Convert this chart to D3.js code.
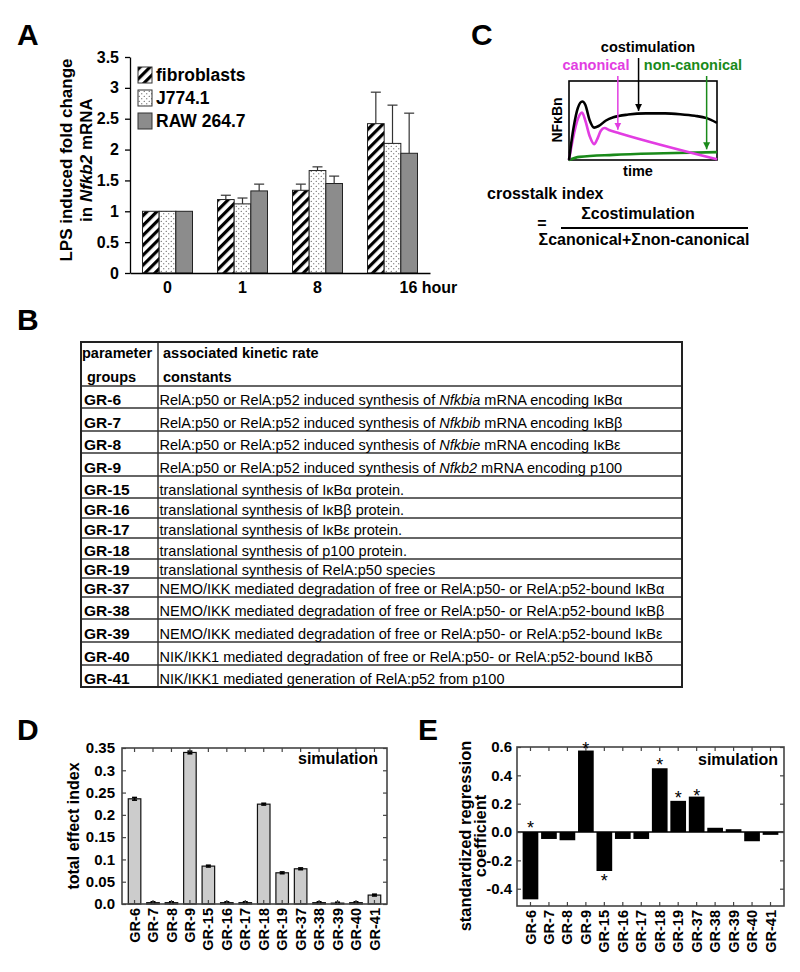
<!DOCTYPE html>
<html>
<head>
<meta charset="utf-8">
<script src="https://cdn.jsdelivr.net/npm/d3@7"></script>
<style>
  body { margin: 0; background: #fff; }
  svg { display: block; font-family: "Liberation Sans", Arial, Helvetica, sans-serif; }
</style>
</head>
<body>
<svg id="fig" width="800" height="972"></svg>
<script>
// ---------- panel A: LPS fold change ----------
const timepoints = ["0", "1", "8", "16"];
const cellLines = ["fibroblasts", "J774.1", "RAW 264.7"];
const fibroblasts = [1.0, 1.19, 1.34, 2.42];
const j774 = [1.0, 1.12, 1.66, 2.10];
const raw264 = [1.0, 1.33, 1.45, 1.94];
const fibroErr = [0, 0.07, 0.10, 0.51];
const j774Err = [0, 0.095, 0.06, 0.62];
const rawErr = [0, 0.11, 0.12, 0.65];
const aTicks = [0, 0.5, 1, 1.5, 2, 2.5, 3, 3.5];

// ---------- panel C: schematic curves (time 0-100, level 0-1) ----------
const costimCurve = [[0,0],[3,0.4],[6,0.66],[9,0.74],[11,0.7],[14,0.5],[17,0.41],[20,0.43],[25,0.5],[30,0.54],[40,0.575],[52,0.59],[65,0.59],[75,0.58],[85,0.56],[93,0.53],[100,0.47]];
const canonicalCurve = [[0,0],[3,0.3],[6,0.52],[8.8,0.6],[11,0.5],[14,0.3],[17,0.2],[19,0.26],[21.5,0.37],[24,0.405],[27,0.38],[34,0.34],[100,0.01]];
const noncanonCurve = [[0,0],[7,0.04],[30,0.065],[64,0.085],[100,0.1]];
const arrowTimes = [47, 33, 93];   // costimulation, canonical, non-canonical

// ---------- panel B: table ----------
const groups = ["GR-6","GR-7","GR-8","GR-9","GR-15","GR-16","GR-17","GR-18","GR-19","GR-37","GR-38","GR-39","GR-40","GR-41"];
const constants = [
  "RelA:p50 or RelA:p52 induced synthesis of _Nfkbia_ mRNA encoding IκBα",
  "RelA:p50 or RelA:p52 induced synthesis of _Nfkbib_ mRNA encoding IκBβ",
  "RelA:p50 or RelA:p52 induced synthesis of _Nfkbie_ mRNA encoding IκBε",
  "RelA:p50 or RelA:p52 induced synthesis of _Nfkb2_ mRNA encoding p100",
  "translational synthesis of IκBα protein.",
  "translational synthesis of IκBβ protein.",
  "translational synthesis of IκBε protein.",
  "translational synthesis of p100 protein.",
  "translational synthesis of RelA:p50 species",
  "NEMO/IKK mediated degradation of free or RelA:p50- or RelA:p52-bound IκBα",
  "NEMO/IKK mediated degradation of free or RelA:p50- or RelA:p52-bound IκBβ",
  "NEMO/IKK mediated degradation of free or RelA:p50- or RelA:p52-bound IκBε",
  "NIK/IKK1 mediated degradation of free or RelA:p50- or RelA:p52-bound IκBδ",
  "NIK/IKK1 mediated generation of RelA:p52 from p100"
];

// ---------- panels D and E ----------
const totalEffect = [0.236, 0.003, 0.003, 0.340, 0.085, 0.003, 0.003, 0.224, 0.070, 0.079, 0.003, 0.002, 0.003, 0.020];
const totalEffectErr = [0.003, 0.002, 0.002, 0.003, 0.002, 0.002, 0.002, 0.002, 0.002, 0.002, 0.002, 0.002, 0.002, 0.002];
const dTicks = [0, 0.05, 0.1, 0.15, 0.2, 0.25, 0.3, 0.35];
const regression = [-0.475, -0.049, -0.058, 0.575, -0.275, -0.049, -0.049, 0.45, 0.22, 0.25, 0.03, 0.02, -0.065, -0.02];
const starAt = [0.063, null, null, 0.62, -0.313, null, null, 0.507, 0.27, 0.285, null, null, null, null];
const eTicks = [-0.4, -0.2, 0, 0.2, 0.4, 0.6];

const FONT = '"Liberation Sans", Arial, Helvetica, sans-serif';
const svg = d3.select("#fig");
const defs = svg.append("defs");

// fill patterns for panel A
const hatch = defs.append("pattern").attr("id", "hatch")
  .attr("patternUnits", "userSpaceOnUse").attr("width", 7).attr("height", 7)
  .attr("patternTransform", "rotate(45)");
hatch.append("rect").attr("width", 7).attr("height", 7).attr("fill", "#fff");
hatch.append("rect").attr("width", 3.2).attr("height", 7).attr("fill", "#000");
const dots = defs.append("pattern").attr("id", "dots")
  .attr("patternUnits", "userSpaceOnUse").attr("width", 5).attr("height", 5);
dots.append("rect").attr("width", 5).attr("height", 5).attr("fill", "#fff");
dots.append("circle").attr("cx", 1.25).attr("cy", 1.25).attr("r", 0.6).attr("fill", "#333");
dots.append("circle").attr("cx", 3.75).attr("cy", 3.75).attr("r", 0.6).attr("fill", "#333");

function panelLetter(t, x, y) {
  svg.append("text").attr("x", x).attr("y", y).attr("font-size", 30)
    .attr("font-weight", "bold").text(t);
}
function boldAxisText(g, size) {
  g.attr("font-family", FONT).attr("font-size", size).attr("font-weight", "bold");
}

// ================= A =================
panelLetter("A", 17, 45);
const gA = svg.append("g");
const aX = d3.scaleBand().domain(timepoints).range([130, 430]).paddingInner(1/3).paddingOuter(1/6);
const aSub = d3.scaleBand().domain(cellLines).range([0, aX.bandwidth()]);
const aY = d3.scaleLinear().domain([0, 3.5]).range([273, 57]);
const aSeries = [
  { name: cellLines[0], values: fibroblasts, err: fibroErr, fill: "url(#hatch)" },
  { name: cellLines[1], values: j774, err: j774Err, fill: "url(#dots)" },
  { name: cellLines[2], values: raw264, err: rawErr, fill: "#8c8c8c" }
];
const aRows = aSeries.flatMap(s => timepoints.map((t, i) => ({ s, t, v: s.values[i], e: s.err[i] })));
const barMid = d => aX(d.t) + aSub(d.s.name) + aSub.bandwidth() / 2;

gA.selectAll("rect.bar").data(aRows).join("rect").attr("class", "bar")
  .attr("x", d => aX(d.t) + aSub(d.s.name))
  .attr("y", d => aY(d.v))
  .attr("width", aSub.bandwidth())
  .attr("height", d => aY(0) - aY(d.v))
  .attr("fill", d => d.s.fill).attr("stroke", "#222").attr("stroke-width", 1);

// upper error bars only
const aErr = gA.selectAll("g.err").data(aRows.filter(d => d.e > 0)).join("g").attr("class", "err")
  .attr("stroke", "#333").attr("stroke-width", 1.2);
aErr.append("line").attr("x1", barMid).attr("x2", barMid)
  .attr("y1", d => aY(d.v)).attr("y2", d => aY(d.v + d.e));
aErr.append("line").attr("x1", d => barMid(d) - 5).attr("x2", d => barMid(d) + 5)
  .attr("y1", d => aY(d.v + d.e)).attr("y2", d => aY(d.v + d.e));

gA.append("g").attr("transform", "translate(130,0)")
  .call(d3.axisLeft(aY).tickValues(aTicks).tickSize(5).tickSizeOuter(0).tickPadding(6).tickFormat(d3.format("~g")))
  .call(g => boldAxisText(g, 16))
  .call(g => g.selectAll("path, line").attr("stroke-width", 1.3));

gA.append("g").attr("transform", "translate(0,273)")
  .call(d3.axisBottom(aX).tickSize(0).tickSizeOuter(0).tickPadding(9).tickFormat(d => d === "16" ? "16 hour" : d))
  .call(g => boldAxisText(g, 16))
  .call(g => g.select("path").attr("stroke-width", 1.3))
  .call(g => g.selectAll(".tick text").filter(d => d === "16").attr("text-anchor", "start").attr("x", 7));

const aTitle = gA.append("g").attr("font-weight", "bold").attr("font-size", 17).attr("text-anchor", "middle");
aTitle.append("text").attr("transform", "translate(72,160) rotate(-90)").text("LPS induced fold change");
const aT2 = aTitle.append("text").attr("transform", "translate(92,160) rotate(-90)");
aT2.append("tspan").text("in ");
aT2.append("tspan").attr("font-style", "italic").text("Nfkb2");
aT2.append("tspan").text(" mRNA");

const aLeg = gA.selectAll("g.leg").data(aSeries).join("g").attr("class", "leg")
  .attr("transform", (d, i) => `translate(138,${67 + i * 23})`);
aLeg.append("rect").attr("width", 14).attr("height", 16)
  .attr("fill", d => d.fill).attr("stroke", "#333").attr("stroke-width", 1);
aLeg.append("text").attr("x", 18).attr("y", 14).attr("font-size", 17.5).attr("font-weight", "bold")
  .text(d => d.name);

// ================= C =================
panelLetter("C", 471, 45);
const gC = svg.append("g");
const cX = d3.scaleLinear().domain([0, 100]).range([569, 717]);
const cY = d3.scaleLinear().domain([0, 1]).range([160, 81]);
const cCurves = [
  { name: "costimulation", pts: costimCurve, color: "#000", labelX: 648, labelY: 52, from: 58 },
  { name: "canonical", pts: canonicalCurve, color: "#e23de2", labelX: 596, labelY: 70, from: 76 },
  { name: "non-canonical", pts: noncanonCurve, color: "#1a8a1a", labelX: 693, labelY: 70, from: 76 }
];
cCurves.forEach((c, i) => {
  defs.append("marker").attr("id", "arr" + i).attr("viewBox", "0 0 10 10")
    .attr("refX", 10).attr("refY", 5).attr("markerUnits", "userSpaceOnUse")
    .attr("markerWidth", 7).attr("markerHeight", 8).attr("orient", "auto")
    .append("path").attr("d", "M0,0L10,5L0,10Z").attr("fill", c.color);
});
gC.append("rect").attr("x", 569).attr("y", 81).attr("width", 148).attr("height", 79)
  .attr("fill", "none").attr("stroke", "#000").attr("stroke-width", 1.6);
const cLine = d3.line().x(d => cX(d[0])).y(d => cY(d[1])).curve(d3.curveMonotoneX);
// green first, black on top
[2, 1, 0].forEach(i => {
  gC.append("path").attr("d", cLine(cCurves[i].pts)).attr("fill", "none")
    .attr("stroke", cCurves[i].color).attr("stroke-width", 2.6).attr("stroke-linejoin", "round");
});
function levelAt(pts, t) {
  for (let k = 1; k < pts.length; k++) {
    if (t <= pts[k][0]) {
      const f = (t - pts[k-1][0]) / (pts[k][0] - pts[k-1][0]);
      return pts[k-1][1] + f * (pts[k][1] - pts[k-1][1]);
    }
  }
  return pts[pts.length - 1][1];
}
cCurves.forEach((c, i) => {
  const x = cX(arrowTimes[i]);
  gC.append("line").attr("x1", x).attr("x2", x).attr("y1", c.from)
    .attr("y2", cY(levelAt(c.pts, arrowTimes[i])) - 3)
    .attr("stroke", c.color).attr("stroke-width", 1.5).attr("marker-end", `url(#arr${i})`);
  gC.append("text").attr("x", c.labelX).attr("y", c.labelY).attr("text-anchor", "middle")
    .attr("font-size", 14.5).attr("font-weight", "bold").attr("fill", c.color).text(c.name);
});
gC.append("text").attr("transform", "translate(562,120) rotate(-90)").attr("text-anchor", "middle")
  .attr("font-size", 14).attr("font-weight", "bold").text("NFκBn");
gC.append("text").attr("x", 638).attr("y", 176).attr("text-anchor", "middle")
  .attr("font-size", 14.5).attr("font-weight", "bold").text("time");
const frac = gC.append("g").attr("font-weight", "bold").attr("font-size", 16);
frac.append("text").attr("x", 487).attr("y", 199).text("crosstalk index");
frac.append("text").attr("x", 542).attr("y", 229).attr("text-anchor", "middle").text("=");
frac.append("text").attr("x", 638).attr("y", 219).attr("text-anchor", "middle").text("Σcostimulation");
frac.append("line").attr("x1", 561).attr("x2", 748).attr("y1", 228).attr("y2", 228)
  .attr("stroke", "#000").attr("stroke-width", 2);
frac.append("text").attr("x", 644).attr("y", 245).attr("text-anchor", "middle").text("Σcanonical+Σnon-canonical");

// ================= B =================
panelLetter("B", 17, 330);
const gB = svg.append("g");
const tableLeft = 81, tableRight = 682, colDiv = 158, tableTop = 342, headerH = 44;
const rowHeights = [22, 23, 22, 23, 22, 20, 20, 21, 19, 19, 22, 23, 23, 22];
const rowBottoms = [];
rowHeights.reduce((acc, h) => { rowBottoms.push(acc + h); return acc + h; }, tableTop + headerH);
const tableBottom = rowBottoms[rowBottoms.length - 1];

const hdr = gB.append("g").attr("font-weight", "bold").attr("font-size", 14.5);
hdr.append("text").attr("x", 82).attr("y", 358).text("parameter");
hdr.append("text").attr("x", 87).attr("y", 382).text("groups");
hdr.append("text").attr("x", 163).attr("y", 358).text("associated kinetic rate");
hdr.append("text").attr("x", 163).attr("y", 382).text("constants");

const rows = groups.map((g, i) => ({ id: g, text: constants[i], bottom: rowBottoms[i] }));
const rowG = gB.selectAll("g.row").data(rows).join("g").attr("class", "row");
rowG.append("line").attr("x1", tableLeft).attr("x2", tableRight)
  .attr("y1", d => d.bottom).attr("y2", d => d.bottom)
  .attr("stroke", "#333").attr("stroke-width", 1.5);
rowG.append("text").attr("x", 84).attr("y", d => d.bottom - 3.5)
  .attr("font-size", 15.5).attr("font-weight", "bold").text(d => d.id);
rowG.append("text").attr("x", 159.5).attr("y", d => d.bottom - 3.5).attr("font-size", 14.5)
  .selectAll("tspan").data(d => d.text.split("_").map((s, k) => ({ s, it: k % 2 === 1 })))
  .join("tspan").attr("font-style", d => d.it ? "italic" : null).text(d => d.s);
gB.append("line").attr("x1", tableLeft).attr("x2", tableRight)
  .attr("y1", tableTop + headerH).attr("y2", tableTop + headerH).attr("stroke", "#333").attr("stroke-width", 1.5);
gB.append("line").attr("x1", colDiv).attr("x2", colDiv).attr("y1", tableTop).attr("y2", tableBottom)
  .attr("stroke", "#333").attr("stroke-width", 1.5);
gB.append("rect").attr("x", tableLeft).attr("y", tableTop).attr("width", tableRight - tableLeft)
  .attr("height", tableBottom - tableTop).attr("fill", "none").attr("stroke", "#222").attr("stroke-width", 2);

// ================= D / E helpers =================
// boxed axes, ticks pointing inward on all four sides
function boxAxes(g, x, y, left, right, top, bottom, ticks, fmt, pad) {
  g.append("g").attr("transform", `translate(${left},0)`)
    .call(d3.axisLeft(y).tickValues(ticks).tickSize(-4).tickSizeOuter(0).tickPadding(pad).tickFormat(fmt))
    .call(a => boldAxisText(a, 15)).call(a => a.select("path").remove());
  g.append("g").attr("transform", `translate(${right},0)`)
    .call(d3.axisRight(y).tickValues(ticks).tickSize(-4).tickSizeOuter(0).tickFormat(""))
    .call(a => a.select("path").remove());
  g.append("g").attr("transform", `translate(0,${top})`)
    .call(d3.axisTop(x).tickSize(-4).tickSizeOuter(0).tickFormat(""))
    .call(a => a.select("path").remove());
  g.append("g").attr("transform", `translate(0,${bottom})`)
    .call(d3.axisBottom(x).tickSize(-4).tickSizeOuter(0))
    .call(a => boldAxisText(a, 14.5)).call(a => a.select("path").remove())
    .call(a => a.selectAll(".tick text").attr("transform", "rotate(-90)").attr("text-anchor", "end")
      .attr("x", -4).attr("y", 0).attr("dy", "0.35em"));
  g.selectAll(".tick line").attr("stroke", "#444").attr("stroke-width", 1.2);
  g.append("rect").attr("x", left).attr("y", top).attr("width", right - left).attr("height", bottom - top)
    .attr("fill", "none").attr("stroke", "#444").attr("stroke-width", 1.6);
}

// ================= D =================
panelLetter("D", 17, 740);
const gD = svg.append("g");
const dX = d3.scaleBand().domain(groups).range([122, 387]).paddingInner(0.32).paddingOuter(0.34);
const dY = d3.scaleLinear().domain([0, 0.35]).range([904, 748]);
const dRows = groups.map((g, i) => ({ g, v: totalEffect[i], e: totalEffectErr[i] }));
const dMid = d => dX(d.g) + dX.bandwidth() / 2;
gD.selectAll("rect.bar").data(dRows).join("rect").attr("class", "bar")
  .attr("x", d => dX(d.g)).attr("y", d => dY(d.v)).attr("width", dX.bandwidth())
  .attr("height", d => dY(0) - dY(d.v))
  .attr("fill", "#cccccc").attr("stroke", "#111").attr("stroke-width", 1.2);
const dErr = gD.selectAll("g.err").data(dRows).join("g").attr("class", "err")
  .attr("stroke", "#000").attr("stroke-width", 1.6);
dErr.append("line").attr("x1", dMid).attr("x2", dMid)
  .attr("y1", d => dY(d.v - d.e)).attr("y2", d => dY(d.v + d.e));
[1, -1].forEach(sgn => {
  dErr.append("line").attr("x1", d => dMid(d) - 2.5).attr("x2", d => dMid(d) + 2.5)
    .attr("y1", d => dY(d.v + sgn * d.e)).attr("y2", d => dY(d.v + sgn * d.e));
});
boxAxes(gD, dX, dY, 122, 387, 748, 904, dTicks, d => d === 0 ? "0.0" : String(d), 7);
gD.append("text").attr("x", 378).attr("y", 764).attr("text-anchor", "end")
  .attr("font-size", 16).attr("font-weight", "bold").text("simulation");
gD.append("text").attr("transform", "translate(79,826) rotate(-90)").attr("text-anchor", "middle")
  .attr("font-size", 16).attr("font-weight", "bold").text("total effect index");

// ================= E =================
panelLetter("E", 418, 740);
const gE = svg.append("g");
const eX = d3.scaleBand().domain(groups).range([517, 784]).paddingInner(0.15).paddingOuter(0.305);
const eY = d3.scaleLinear().domain([-0.522, 0.6]).range([906, 747]);
const eRows = groups.map((g, i) => ({ g, v: regression[i], star: starAt[i] }));
gE.selectAll("rect.bar").data(eRows).join("rect").attr("class", "bar")
  .attr("x", d => eX(d.g)).attr("y", d => eY(Math.max(0, d.v))).attr("width", eX.bandwidth())
  .attr("height", d => Math.abs(eY(d.v) - eY(0))).attr("fill", "#000");
gE.append("line").attr("x1", 517).attr("x2", 784).attr("y1", eY(0)).attr("y2", eY(0))
  .attr("stroke", "#000").attr("stroke-width", 1.5);
boxAxes(gE, eX, eY, 517, 784, 747, 906, eTicks, d => d.toFixed(1), 5);
gE.selectAll("text.star").data(eRows.filter(d => d.star !== null)).join("text").attr("class", "star")
  .attr("x", d => eX(d.g) + eX.bandwidth() / 2).attr("y", d => eY(d.star)).attr("dy", "0.58em")
  .attr("text-anchor", "middle").attr("font-size", 18).text("*");
gE.append("text").attr("x", 778).attr("y", 765).attr("text-anchor", "end")
  .attr("font-size", 16).attr("font-weight", "bold").text("simulation");
const eTitle = gE.append("g").attr("font-size", 16.5).attr("font-weight", "bold").attr("text-anchor", "middle");
eTitle.append("text").attr("transform", "translate(471,836) rotate(-90)").text("standardized regression");
eTitle.append("text").attr("transform", "translate(486,836) rotate(-90)").text("coefficient");
</script>
</body>
</html>
